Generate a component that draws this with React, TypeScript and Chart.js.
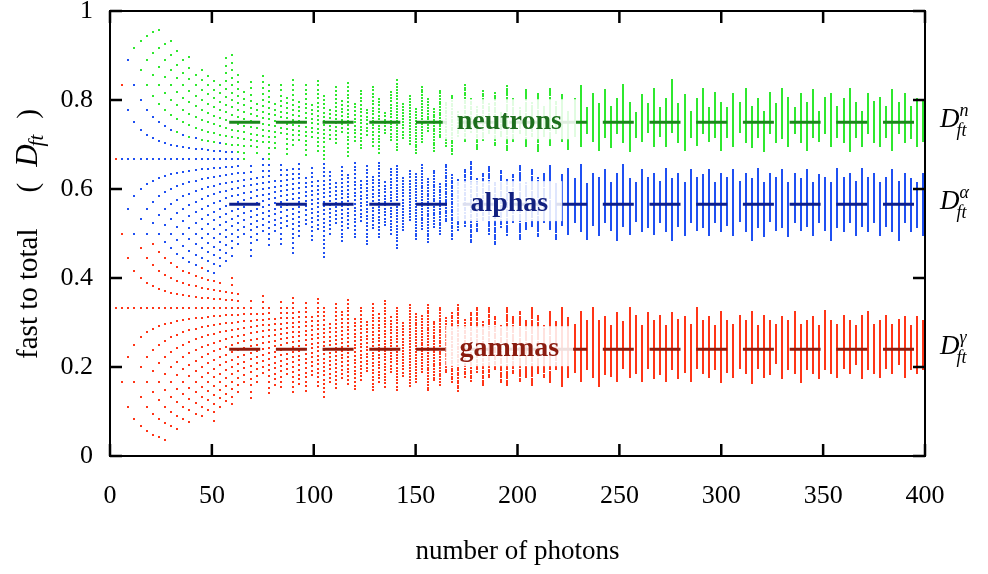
import React, { useEffect, useRef } from "react";
import { Chart, registerables } from "chart.js";

Chart.register(...registerables);

// ---------- data ----------
const photonCounts = [
  3, 6, 9, 12, 15, 18, 21, 24, 27, 30,
  33, 36, 39, 42, 45, 48, 51, 54, 57, 60,
  63, 66, 69, 72, 75, 78, 81, 84, 87, 90,
  93, 96, 99, 102, 105, 108, 111, 114, 117, 120,
  123, 126, 129, 132, 135, 138, 141, 144, 147, 150,
  153, 156, 159, 162, 165, 168, 171, 174, 177, 180,
  183, 186, 189, 192, 195, 198, 201, 204, 207, 210,
  213, 216, 219, 222, 225, 228, 231, 234, 237, 240,
  243, 246, 249, 252, 255, 258, 261, 264, 267, 270,
  273, 276, 279, 282, 285, 288, 291, 294, 297, 300,
  303, 306, 309, 312, 315, 318, 321, 324, 327, 330,
  333, 336, 339, 342, 345, 348, 351, 354, 357, 360,
  363, 366, 369, 372, 375, 378, 381, 384, 387, 390,
  393, 396, 399,
];

// lowest / highest fast-to-total fraction observed at each photon count
const neutronLow = [
  0.67, 0.67, 0.67, 0.67, 0.67, 0.67, 0.67, 0.67, 0.67, 0.67,
  0.66, 0.66, 0.65, 0.64, 0.65, 0.64, 0.63, 0.64, 0.65, 0.66,
  0.68, 0.66, 0.70, 0.68, 0.71, 0.67, 0.69, 0.72, 0.68, 0.70,
  0.71, 0.68, 0.72, 0.69, 0.67, 0.71, 0.70, 0.73, 0.68, 0.71,
  0.69, 0.72, 0.70, 0.68, 0.73, 0.71, 0.69, 0.72, 0.70, 0.68,
  0.71, 0.73, 0.69, 0.72, 0.70, 0.68, 0.72, 0.71, 0.73, 0.69,
  0.71, 0.73, 0.70, 0.72, 0.69, 0.71, 0.73, 0.70, 0.72, 0.69,
  0.72, 0.70, 0.73, 0.71, 0.69, 0.72, 0.70, 0.73, 0.71, 0.69,
  0.72, 0.70, 0.73, 0.71, 0.69, 0.72, 0.71, 0.73, 0.70, 0.72,
  0.70, 0.73, 0.71, 0.69, 0.72, 0.70, 0.73, 0.71, 0.72, 0.69,
  0.72, 0.70, 0.73, 0.71, 0.70, 0.72, 0.69, 0.73, 0.71, 0.72,
  0.70, 0.73, 0.71, 0.69, 0.72, 0.71, 0.73, 0.70, 0.72, 0.71,
  0.69, 0.72, 0.70, 0.73, 0.71, 0.70, 0.72, 0.69, 0.73, 0.71,
  0.72, 0.70, 0.71,
];
const neutronHigh = [
  1.0, 1.0, 0.89, 0.92, 0.93, 0.94, 0.95, 0.96, 0.93, 0.93,
  0.91, 0.89, 0.90, 0.86, 0.87, 0.86, 0.85, 0.84, 0.89, 0.90,
  0.86, 0.82, 0.84, 0.80, 0.85, 0.83, 0.79, 0.84, 0.81, 0.85,
  0.80, 0.83, 0.79, 0.84, 0.81, 0.78, 0.83, 0.80, 0.84, 0.79,
  0.82, 0.78, 0.83, 0.80, 0.77, 0.82, 0.84, 0.79, 0.81, 0.78,
  0.83, 0.80, 0.78, 0.82, 0.79, 0.81, 0.77, 0.83, 0.80, 0.78,
  0.82, 0.79, 0.81, 0.77, 0.83, 0.80, 0.78, 0.82, 0.79, 0.81,
  0.78, 0.82, 0.79, 0.81, 0.77, 0.80, 0.83, 0.78, 0.81, 0.79,
  0.82, 0.78, 0.80, 0.83, 0.79, 0.77, 0.81, 0.79, 0.82, 0.78,
  0.80, 0.84, 0.79, 0.81, 0.77, 0.80, 0.82, 0.78, 0.81, 0.79,
  0.78, 0.81, 0.79, 0.82, 0.78, 0.80, 0.77, 0.81, 0.79, 0.82,
  0.80, 0.78, 0.81, 0.79, 0.82, 0.77, 0.80, 0.81, 0.78, 0.80,
  0.82, 0.79, 0.77, 0.81, 0.79, 0.80, 0.78, 0.82, 0.79, 0.81,
  0.78, 0.80, 0.79,
];

const alphaLow = [
  0.67, 0.50, 0.44, 0.42, 0.40, 0.39, 0.38, 0.38, 0.37, 0.40,
  0.39, 0.39, 0.41, 0.40, 0.41, 0.42, 0.37, 0.43, 0.44, 0.45,
  0.47, 0.50, 0.45, 0.49, 0.51, 0.47, 0.50, 0.48, 0.52, 0.46,
  0.49, 0.52, 0.48, 0.51, 0.45, 0.50, 0.52, 0.48, 0.51, 0.49,
  0.53, 0.48, 0.51, 0.49, 0.52, 0.50, 0.47, 0.51, 0.53, 0.49,
  0.51, 0.48, 0.52, 0.50, 0.53, 0.49, 0.51, 0.52, 0.48, 0.51,
  0.53, 0.50, 0.48, 0.52, 0.50, 0.53, 0.49, 0.51, 0.52, 0.50,
  0.53, 0.51, 0.49, 0.52, 0.50, 0.53, 0.51, 0.49, 0.52, 0.50,
  0.53, 0.51, 0.49, 0.52, 0.50, 0.53, 0.51, 0.52, 0.50, 0.53,
  0.51, 0.49, 0.52, 0.50, 0.53, 0.51, 0.52, 0.50, 0.53, 0.51,
  0.52, 0.50, 0.53, 0.51, 0.49, 0.52, 0.50, 0.53, 0.51, 0.52,
  0.50, 0.53, 0.51, 0.52, 0.50, 0.53, 0.51, 0.49, 0.52, 0.51,
  0.53, 0.50, 0.52, 0.51, 0.53, 0.50, 0.52, 0.51, 0.49, 0.53,
  0.51, 0.52, 0.50,
];
const alphaHigh = [
  1.0, 0.67, 0.89, 0.83, 0.80, 0.78, 0.76, 0.75, 0.74, 0.73,
  0.72, 0.72, 0.71, 0.71, 0.70, 0.70, 0.69, 0.70, 0.69, 0.68,
  0.67, 0.64, 0.66, 0.63, 0.67, 0.65, 0.62, 0.66, 0.64, 0.65,
  0.66, 0.63, 0.65, 0.62, 0.66, 0.64, 0.61, 0.65, 0.63, 0.66,
  0.62, 0.65, 0.63, 0.66, 0.61, 0.64, 0.65, 0.62, 0.64, 0.63,
  0.65, 0.62, 0.64, 0.61, 0.65, 0.63, 0.62, 0.64, 0.66, 0.62,
  0.63, 0.65, 0.61, 0.64, 0.62, 0.63, 0.65, 0.61, 0.64, 0.62,
  0.63, 0.65, 0.61, 0.63, 0.64, 0.62, 0.65, 0.61, 0.63, 0.62,
  0.64, 0.61, 0.63, 0.65, 0.62, 0.61, 0.64, 0.62, 0.63, 0.61,
  0.64, 0.62, 0.63, 0.61, 0.64, 0.62, 0.63, 0.64, 0.61, 0.63,
  0.62, 0.64, 0.61, 0.63, 0.62, 0.64, 0.61, 0.63, 0.62, 0.64,
  0.61, 0.63, 0.62, 0.64, 0.61, 0.63, 0.62, 0.61, 0.64, 0.62,
  0.63, 0.61, 0.64, 0.62, 0.63, 0.61, 0.62, 0.64, 0.61, 0.63,
  0.62, 0.61, 0.63,
];

const gammaLow = [
  0.33, 0.17, 0.11, 0.08, 0.07, 0.06, 0.05, 0.04, 0.04, 0.07,
  0.06, 0.08, 0.08, 0.10, 0.09, 0.10, 0.08, 0.11, 0.12, 0.12,
  0.14, 0.17, 0.13, 0.16, 0.18, 0.14, 0.16, 0.15, 0.18, 0.14,
  0.16, 0.15, 0.18, 0.16, 0.13, 0.17, 0.15, 0.18, 0.16, 0.15,
  0.17, 0.19, 0.15, 0.17, 0.16, 0.19, 0.15, 0.18, 0.16, 0.17,
  0.19, 0.15, 0.17, 0.16, 0.19, 0.17, 0.15, 0.18, 0.17, 0.19,
  0.16, 0.18, 0.20, 0.17, 0.16, 0.19, 0.17, 0.18, 0.16, 0.19,
  0.18, 0.17, 0.20, 0.16, 0.18, 0.19, 0.17, 0.20, 0.18, 0.16,
  0.19, 0.18, 0.17, 0.20, 0.18, 0.19, 0.17, 0.20, 0.18, 0.19,
  0.17, 0.20, 0.18, 0.19, 0.17, 0.20, 0.19, 0.18, 0.20, 0.17,
  0.19, 0.18, 0.20, 0.19, 0.17, 0.20, 0.18, 0.19, 0.21, 0.18,
  0.20, 0.19, 0.17, 0.20, 0.19, 0.18, 0.20, 0.19, 0.18, 0.20,
  0.19, 0.21, 0.18, 0.20, 0.19, 0.18, 0.20, 0.19, 0.21, 0.18,
  0.20, 0.19, 0.20,
];
const gammaHigh = [
  0.67, 0.50, 0.44, 0.42, 0.47, 0.44, 0.48, 0.46, 0.44, 0.43,
  0.42, 0.42, 0.41, 0.40, 0.42, 0.40, 0.39, 0.39, 0.38, 0.40,
  0.37, 0.33, 0.35, 0.32, 0.36, 0.34, 0.31, 0.35, 0.33, 0.36,
  0.32, 0.34, 0.31, 0.35, 0.33, 0.30, 0.34, 0.32, 0.35, 0.31,
  0.33, 0.30, 0.34, 0.32, 0.35, 0.31, 0.33, 0.30, 0.34, 0.32,
  0.31, 0.34, 0.30, 0.33, 0.31, 0.32, 0.34, 0.30, 0.32, 0.33,
  0.30, 0.33, 0.31, 0.29, 0.33, 0.31, 0.32, 0.30, 0.33, 0.31,
  0.29, 0.32, 0.30, 0.33, 0.31, 0.29, 0.32, 0.30, 0.33, 0.30,
  0.31, 0.29, 0.32, 0.30, 0.33, 0.31, 0.29, 0.32, 0.30, 0.31,
  0.29, 0.32, 0.30, 0.31, 0.29, 0.33, 0.30, 0.31, 0.29, 0.32,
  0.30, 0.29, 0.31, 0.30, 0.32, 0.29, 0.31, 0.30, 0.29, 0.31,
  0.30, 0.32, 0.29, 0.30, 0.31, 0.29, 0.32, 0.30, 0.29, 0.31,
  0.30, 0.29, 0.31, 0.32, 0.29, 0.30, 0.31, 0.29, 0.30, 0.31,
  0.29, 0.31, 0.30,
];

// isolated points outside the envelopes
const gammaOutlierCounts = [6];
const gammaOutlierValues = [0.833];

// mean discriminant levels (dashed lines) and labels
const seriesNames = ["neutrons", "alphas", "gammas"];
const meanLevels = [0.75, 0.566, 0.24];
const meanLineFrom = 58.5;
const meanLineTo = 400;
const labelAtPhotons = 196;
const rightLabelSup = ["n", "\u03b1", "\u03b3"];

const xTickValues = [0, 50, 100, 150, 200, 250, 300, 350, 400];
const xTickLabels = ["0", "50", "100", "150", "200", "250", "300", "350", "400"];
const yTickValues = [0, 0.2, 0.4, 0.6, 0.8, 1];
const yTickLabels = ["0", "0.2", "0.4", "0.6", "0.8", "1"];

// ---------- styles ----------
const SERIF = "'Liberation Serif', 'Times New Roman', serif";
const pointColors = ["#2fe82f", "#1f50f2", "#ff3517"];
const lineColors = ["#1c861c", "#0d1f8c", "#8e1d0e"];
const textColors = ["#1d6e1d", "#12207f", "#8a1c0f"];

function latticePoints(lows: number[], highs: number[]) {
  const pts: { x: number; y: number }[] = [];
  photonCounts.forEach((n, i) => {
    const k0 = Math.max(0, Math.ceil((lows[i] - 0.005) * n));
    const k1 = Math.min(n, Math.floor((highs[i] + 0.005) * n));
    for (let k = k0; k <= k1; k++) pts.push({ x: n, y: k / n });
  });
  return pts;
}

// snap scatter markers to whole pixels so that they render as crisp 2px squares
const snapPlugin = {
  id: "snapPoints",
  beforeDatasetDraw(chart: any, args: any) {
    const meta = args.meta;
    const ds = chart.data.datasets[args.index];
    if (ds.showLine) return;
    meta.data.forEach((el: any) => {
      el.x = Math.round(el.x);
      el.y = Math.round(el.y);
    });
  },
};

const overlayPlugin = {
  id: "overlay",
  afterDatasetsDraw(chart: any) {
    const { ctx, scales } = chart;
    const xs = scales.x;
    const ys = scales.y;
    ctx.save();
    ctx.font = `bold 28px ${SERIF}`;
    ctx.textAlign = "center";
    ctx.textBaseline = "alphabetic";
    seriesNames.forEach((name, i) => {
      const cx = xs.getPixelForValue(labelAtPhotons);
      const cy = ys.getPixelForValue(meanLevels[i]);
      const base = cy + 7;
      const w = ctx.measureText(name).width + 28;
      ctx.fillStyle = "rgba(255,255,255,0.86)";
      ctx.fillRect(cx - w / 2, base - 30, w, 40);
      ctx.fillStyle = textColors[i];
      ctx.fillText(name, cx, base);
    });
    ctx.restore();
  },
  afterDraw(chart: any) {
    const { ctx, chartArea: a, scales } = chart;
    const xs = scales.x;
    const ys = scales.y;
    ctx.save();
    // frame
    ctx.strokeStyle = "#000";
    ctx.lineWidth = 2;
    ctx.strokeRect(a.left, a.top, a.right - a.left, a.bottom - a.top);
    // inward ticks
    ctx.lineWidth = 2.5;
    ctx.beginPath();
    xTickValues.forEach((v) => {
      const px = xs.getPixelForValue(v);
      ctx.moveTo(px, a.bottom);
      ctx.lineTo(px, a.bottom - 12);
      ctx.moveTo(px, a.top);
      ctx.lineTo(px, a.top + 12);
    });
    yTickValues.forEach((v) => {
      const py = ys.getPixelForValue(v);
      ctx.moveTo(a.left, py);
      ctx.lineTo(a.left + 12, py);
      ctx.moveTo(a.right, py);
      ctx.lineTo(a.right - 12, py);
    });
    ctx.stroke();

    // right-hand labels D_ft^x
    ctx.fillStyle = "#000";
    ctx.textAlign = "left";
    ctx.textBaseline = "alphabetic";
    rightLabelSup.forEach((sup, i) => {
      const cy = ys.getPixelForValue(meanLevels[i]);
      const base = cy + 5;
      const x0 = a.right + 15;
      ctx.font = `italic 27px ${SERIF}`;
      ctx.fillText("D", x0, base);
      const dw = ctx.measureText("D").width;
      ctx.font = `italic 18px ${SERIF}`;
      ctx.fillText(sup, x0 + dw, base - 11);
      ctx.fillText("ft", x0 + dw - 3, base + 9);
    });

    // y-axis title: fast to total   ( D_ft )
    const pieces = [
      { t: "fast to total", f: `29px ${SERIF}`, dy: 0, gap: 0 },
      { t: "(", f: `29px ${SERIF}`, dy: 0, gap: 36 },
      { t: "D", f: `italic 31px ${SERIF}`, dy: 0, gap: 16 },
      { t: "ft", f: `italic 21px ${SERIF}`, dy: 6, gap: -2 },
      { t: ")", f: `29px ${SERIF}`, dy: 0, gap: 16 },
    ];
    let total = 0;
    const widths = pieces.map((p) => {
      ctx.font = p.f;
      const w = ctx.measureText(p.t).width;
      total += w + p.gap;
      return w;
    });
    ctx.translate(37, 234);
    ctx.rotate(-Math.PI / 2);
    let cur = -total / 2;
    pieces.forEach((p, i) => {
      cur += p.gap;
      ctx.font = p.f;
      ctx.fillText(p.t, cur, p.dy);
      cur += widths[i];
    });
    ctx.restore();
  },
};

export default function App() {
  const ref = useRef<HTMLCanvasElement | null>(null);

  useEffect(() => {
    if (!ref.current) return;
    const redPts = latticePoints(gammaLow, gammaHigh);
    gammaOutlierCounts.forEach((n, i) => redPts.push({ x: n, y: gammaOutlierValues[i] }));

    const pointDs = (label: string, data: any[], color: string, order: number) => ({
      type: "scatter" as const,
      label,
      data,
      order,
      showLine: false,
      pointStyle: "rect",
      pointRadius: 1.42,
      pointHoverRadius: 1.42,
      pointBorderWidth: 0,
      backgroundColor: color,
      borderColor: color,
    });
    const lineDs = (i: number) => ({
      type: "line" as const,
      label: seriesNames[i] + " mean",
      data: [
        { x: meanLineFrom, y: meanLevels[i] },
        { x: meanLineTo, y: meanLevels[i] },
      ],
      order: 0,
      showLine: true,
      pointRadius: 0,
      borderColor: lineColors[i],
      borderWidth: 3,
      borderDash: [31, 15.7],
      fill: false,
    });

    const tickFont = { family: SERIF, size: 26 };

    const chart = new Chart(ref.current, {
      type: "scatter",
      data: {
        datasets: [
          lineDs(0),
          lineDs(1),
          lineDs(2),
          pointDs("gammas", redPts, pointColors[2], 1),
          pointDs("alphas", latticePoints(alphaLow, alphaHigh), pointColors[1], 2),
          pointDs("neutrons", latticePoints(neutronLow, neutronHigh), pointColors[0], 3),
        ] as any,
      },
      options: {
        animation: false,
        responsive: false,
        events: [],
        layout: { padding: { left: 0, right: 63, top: 11, bottom: 0 } },
        plugins: { legend: { display: false }, tooltip: { enabled: false } },
        scales: {
          x: {
            type: "linear",
            min: 0,
            max: 400,
            afterBuildTicks: (s: any) => {
              s.ticks = xTickValues.map((v) => ({ value: v }));
            },
            afterFit: (s: any) => {
              s.height = 118;
              s.paddingLeft = 0;
              s.paddingRight = 0;
            },
            grid: { display: false, drawTicks: false },
            border: { display: false },
            ticks: {
              padding: 25,
              color: "#000",
              font: tickFont,
              maxRotation: 0,
              autoSkip: false,
              callback: (_v: any, i: number) => xTickLabels[i],
            },
            title: {
              display: true,
              text: "number of photons",
              color: "#000",
              font: { family: SERIF, size: 27 },
              padding: { top: 0, bottom: 6 },
            },
          },
          y: {
            type: "linear",
            min: 0,
            max: 1,
            afterBuildTicks: (s: any) => {
              s.ticks = yTickValues.map((v) => ({ value: v }));
            },
            afterFit: (s: any) => {
              s.width = 110;
              s.paddingTop = 0;
              s.paddingBottom = 0;
            },
            grid: { display: false, drawTicks: false },
            border: { display: false },
            ticks: {
              padding: 17,
              color: "#000",
              font: tickFont,
              autoSkip: false,
              callback: (_v: any, i: number) => yTickLabels[i],
            },
          },
        },
      } as any,
      plugins: [snapPlugin, overlayPlugin],
    });
    return () => chart.destroy();
  }, []);

  return (
    <div style={{ position: "absolute", left: 0, top: 0, width: 988, height: 574, background: "#fff" }}>
      <canvas ref={ref} width={988} height={574} style={{ display: "block" }} />
    </div>
  );
}
